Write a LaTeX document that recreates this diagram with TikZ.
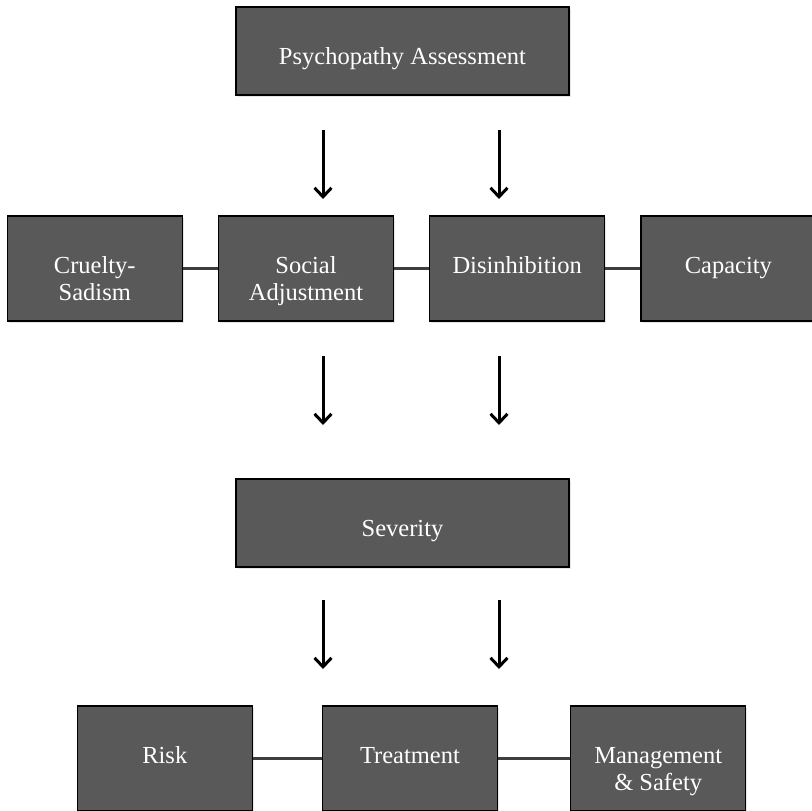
\documentclass[tikz,border=0pt]{standalone}
\usepackage{fontspec}
\setmainfont{Liberation Serif}
\usepackage{tikz}
\usetikzlibrary{positioning,shadows,arrows.meta}
\definecolor{boxgray}{RGB}{89, 89, 89}
\definecolor{linkgray}{RGB}{62, 62, 62}
\tikzstyle{box} = [rectangle, draw=black, line width=1.2pt, fill=boxgray, text=white, align=center, font=\fontsize{24.5}{27}\selectfont, minimum width=175pt, minimum height=105pt, inner sep=0pt, text height=15pt, text depth=6pt, drop shadow={opacity=0.2, shadow xshift=1.5pt, shadow yshift=-2pt}]
\tikzstyle{twoline} = [box, text height=69pt]
\tikzstyle{widebox} = [box, minimum width=333pt, minimum height=88pt, text height=32pt]
\tikzstyle{link} = [draw=linkgray, line width=3pt]
\tikzstyle{tedge} = [draw, line width=3pt, -{Straight Barb[length=9pt, width=17pt]}]

\begin{document}
\begin{tikzpicture}

\useasboundingbox (0,0) rectangle (812pt,-811pt);

% boxes =============================

% assessment
\node[widebox] (assess) at (402.5pt,-51pt) {Psychopathy Assessment};

% factors
\node[twoline] (social) at (306pt,-268.5pt) {Social\\Adjustment};
\node[twoline, left=35pt of social] (cruelty) {Cruelty-\\Sadism};
\node[box, right=35pt of social] (disinhib) {Disinhibition};
\node[box, right=35pt of disinhib] (capacity) {Capacity};

% severity
\node[widebox] (severity) at (402.5pt,-523pt) {Severity};

% outcomes
\node[box] (treat) at (410pt,-758.5pt) {Treatment};
\node[box, left=69pt of treat] (risk) {Risk};
\node[twoline, right=72pt of treat] (manage) {Management\\\& Safety};

% arrow ends
\coordinate (a1) at (323pt,-130pt);
\coordinate (a1e) at (323pt,-199pt);
\coordinate (a2) at (499pt,-130pt);
\coordinate (a2e) at (499pt,-199pt);
\coordinate (a3) at (323pt,-356pt);
\coordinate (a3e) at (323pt,-425pt);
\coordinate (a4) at (499pt,-356pt);
\coordinate (a4e) at (499pt,-425pt);
\coordinate (a5) at (323pt,-600pt);
\coordinate (a5e) at (323pt,-669pt);
\coordinate (a6) at (499pt,-600pt);
\coordinate (a6e) at (499pt,-669pt);

%edges
\path[link] (cruelty) -- (social);
\path[link] (social) -- (disinhib);
\path[link] (disinhib) -- (capacity);
\path[link] (risk) -- (treat);
\path[link] (treat) -- (manage);

\path[tedge] (a1) -- (a1e);
\path[tedge] (a2) -- (a2e);
\path[tedge] (a3) -- (a3e);
\path[tedge] (a4) -- (a4e);
\path[tedge] (a5) -- (a5e);
\path[tedge] (a6) -- (a6e);

\end{tikzpicture}
\end{document}
